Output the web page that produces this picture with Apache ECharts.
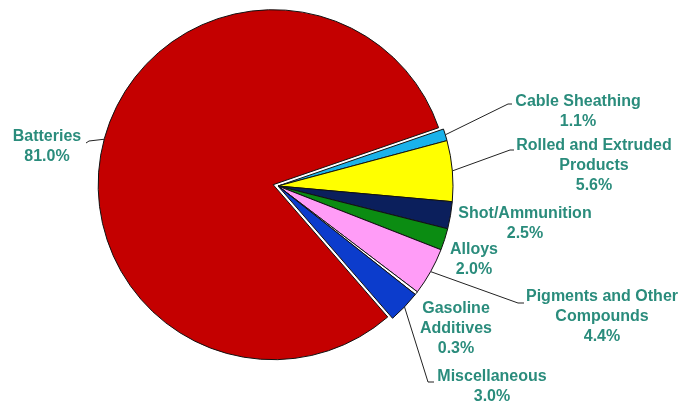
<!DOCTYPE html>
<html><head><meta charset="utf-8">
<script src="https://cdn.jsdelivr.net/npm/echarts@6/dist/echarts.min.js"></script>
<style>html,body{margin:0;padding:0;background:#fff}#c{width:696px;height:405px}</style>
</head><body><div id="c"></div>
<script>
// Data (clockwise from upper right)
const categories = ['Cable Sheathing', 'Rolled and Extruded\nProducts', 'Shot/Ammunition', 'Alloys',
  'Pigments and Other\nCompounds', 'Gasoline\nAdditives', 'Miscellaneous', 'Batteries'];
const values = [1.1, 5.6, 2.5, 2.0, 4.4, 0.3, 3.0, 81.0];
const colors = ['#1ab2ea', '#ffff00', '#0b1f5c', '#0b8c12', '#ff9cf7', '#ffffff', '#0c3ccc', '#c40000'];
const exploded = [false, false, false, false, false, false, false, true];
// label block centres and whether a leader line is drawn
const labelPos = [[578, 112], [594, 166], [525, 224], [474, 260], [602, 317], [456, 329], [492, 387], [47, 147]];
const hasLine = [true, true, false, false, true, false, true, true];
// leader line bend / end points
const lineEnds = [[[508, 104], [512, 104]], [[510, 150], [514, 150]], null, null,
  [[518, 303], [524, 303]], null, [[428, 382], [434, 382]], [[89, 141], [86, 143]]];

const CX = 278, CY = 186, R = 175, START = 19, OFFSET = 5;
// explode direction of the exploded slice (mid-angle)
function midAngle(idx) {
  const total = values.reduce((a, b) => a + b, 0);
  let before = 0;
  for (let i = 0; i < idx; i++) before += values[i];
  return START - (before + values[idx] / 2) / total * 360;
}
const ex = values.findIndex((v, i) => exploded[i]);
const ma = midAngle(ex) * Math.PI / 180;
const offX = OFFSET * Math.cos(ma), offY = -OFFSET * Math.sin(ma);

const labelBase = {
  show: true,
  position: 'outside',
  color: '#2a8c7c',
  fontFamily: 'Liberation Sans, Arial, sans-serif',
  fontWeight: 'bold',
  fontSize: 16,
  lineHeight: 20,
  align: 'center',
  formatter: p => p.name + '\n' + p.value.toFixed(1) + '%'
};
function layoutFn(p) {
  const i = p.dataIndex;
  const out = {x: labelPos[i][0], y: labelPos[i][1], align: 'center', verticalAlign: 'middle'};
  if (hasLine[i] && p.labelLinePoints) {
    out.labelLinePoints = [p.labelLinePoints[0], lineEnds[i][0], lineEnds[i][1]];
  }
  return out;
}
function makeSeries(showExploded, center) {
  return {
    type: 'pie',
    center: center,
    radius: R,
    startAngle: START,
    clockwise: true,
    avoidLabelOverlap: false,
    silent: true,
    emphasis: {disabled: true},
    label: labelBase,
    labelLine: {show: true, length: 10, length2: 10, lineStyle: {color: '#222', width: 1}},
    labelLayout: layoutFn,
    data: categories.map((c, i) => {
      const visible = exploded[i] === showExploded;
      return {
        name: c,
        value: values[i],
        itemStyle: visible ? {color: colors[i], borderColor: '#111', borderWidth: 1}
                           : {color: 'rgba(0,0,0,0)', borderWidth: 0},
        label: {show: visible},
        labelLine: {show: visible && hasLine[i]}
      };
    })
  };
}

const chart = echarts.init(document.getElementById('c'), null, {renderer: 'canvas'});
chart.setOption({
  animation: false,
  series: [
    makeSeries(false, [CX, CY]),
    makeSeries(true, [CX + offX, CY + offY])
  ]
});
</script></body></html>
